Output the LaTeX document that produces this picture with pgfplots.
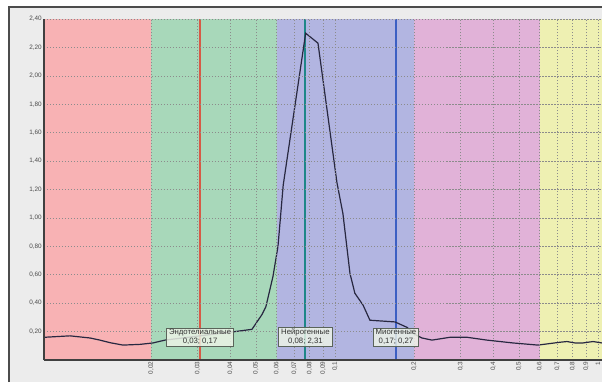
\documentclass[border=0pt]{standalone}
\usepackage{pgfplots}
\pgfplotsset{compat=1.18}
\usepackage{fontspec}
\setmainfont{Liberation Sans}
\definecolor{bgray}{RGB}{236,236,236}
\definecolor{bandR}{RGB}{248,178,180}
\definecolor{bandG}{RGB}{168,216,186}
\definecolor{bandB}{RGB}{178,181,225}
\definecolor{bandP}{RGB}{225,178,216}
\definecolor{bandY}{RGB}{238,240,178}
\definecolor{lineR}{RGB}{215,90,70}
\definecolor{lineT}{RGB}{30,135,135}
\definecolor{lineB}{RGB}{60,95,195}
\definecolor{curve}{RGB}{40,40,65}
\definecolor{boxfill}{RGB}{238,245,232}
\definecolor{boxdraw}{RGB}{90,100,90}
\begin{document}
\begin{tikzpicture}[x=1bp,y=1bp]
\useasboundingbox (0,0) rectangle (602,382);
\fill[white] (0,0) rectangle (602,382);
\fill[bgray] (9,0) rectangle (602,375);
\draw[black!70, line width=1.5bp] (9,0) -- (9,375) -- (602,375);
\begin{axis}[
  at={(44bp,22bp)}, anchor=south west,
  scale only axis, width=558bp, height=341bp,
  xmode=log, xmin=0.00783, xmax=1.0356,
  ymin=0, ymax=2.4,
  axis on top,
  axis x line*=bottom, axis y line*=left,
  axis line style={-, black!75, line width=1.3bp},
  xtick={0.02,0.03,0.04,0.05,0.06,0.07,0.08,0.09,0.1,0.2,0.3,0.4,0.5,0.6,0.7,0.8,0.9,1},
  xticklabels={{0,02},{0,03},{0,04},{0,05},{0,06},{0,07},{0,08},{0,09},{0,1},{0,2},{0,3},{0,4},{0,5},{0,6},{0,7},{0,8},{0,9},{1}},
  minor xtick={},
  ytick={0.2,0.4,0.6,0.8,1.0,1.2,1.4,1.6,1.8,2.0,2.2,2.4},
  yticklabels={{0,20},{0,40},{0,60},{0,80},{1,00},{1,20},{1,40},{1,60},{1,80},{2,00},{2,20},{2,40}},
  major tick length=0pt,
  xticklabel style={rotate=90, anchor=east, font=\fontsize{6.4}{7}\selectfont, text=black!70, inner sep=1.5bp},
  yticklabel style={font=\fontsize{6.4}{7}\selectfont, text=black!70, inner sep=2bp},
  /pgf/number format/assume math mode=true,
  grid=major,
  major grid style={dash pattern=on 1.5bp off 1.5bp, black!45, line width=0.6bp},
  clip=true,
]
% frequency bands
\addplot[draw=none, fill=bandR] coordinates {(0.00783,2.4) (0.02,2.4)} \closedcycle;
\addplot[draw=none, fill=bandG] coordinates {(0.02,2.4) (0.06,2.4)} \closedcycle;
\addplot[draw=none, fill=bandB] coordinates {(0.06,2.4) (0.2,2.4)} \closedcycle;
\addplot[draw=none, fill=bandP] coordinates {(0.2,2.4) (0.6,2.4)} \closedcycle;
\addplot[draw=none, fill=bandY] coordinates {(0.6,2.4) (1.0356,2.4)} \closedcycle;
% marker lines
\addplot[lineR, line width=1.6bp] coordinates {(0.0307,0) (0.0307,2.4)};
\addplot[lineT, line width=2bp] coordinates {(0.0772,0) (0.0772,2.4)};
\addplot[lineB, line width=1.6bp] coordinates {(0.1706,0) (0.1706,2.4)};
% spectrum curve
\addplot[curve, line width=1.2bp] coordinates {
(0.00787,0.160) (0.00983,0.170) (0.01171,0.155) (0.01278,0.140) (0.01395,0.122)
(0.01563,0.105) (0.01814,0.110) (0.02032,0.120) (0.02257,0.140) (0.03067,0.170)
(0.04167,0.200) (0.04835,0.216) (0.05278,0.320) (0.05463,0.376) (0.05809,0.587)
(0.06072,0.800) (0.06355,1.230) (0.07737,2.300) (0.08617,2.230) (0.1017,1.250)
(0.1072,1.030) (0.1140,0.610) (0.1190,0.470) (0.1278,0.387) (0.1358,0.280)
(0.1691,0.268) (0.1878,0.230) (0.2014,0.180) (0.2142,0.155) (0.2338,0.140)
(0.2738,0.160) (0.3176,0.160) (0.3784,0.140) (0.4751,0.120) (0.5910,0.105)
(0.7171,0.125) (0.7620,0.130) (0.8178,0.120) (0.8768,0.120) (0.9572,0.130) (1.0356,0.120)
};
\coordinate (L1) at (axis cs:0.0307,0.162);
\coordinate (L2) at (axis cs:0.0772,0.162);
\coordinate (L3) at (axis cs:0.1706,0.162);
\end{axis}
\tikzset{lbl/.style={draw=boxdraw, fill=boxfill, fill opacity=0.82, text opacity=1, align=center,
  font=\fontsize{7.8}{9}\selectfont, inner xsep=2.5bp, inner ysep=1.3bp, line width=0.7bp, text=black!80}}
\node[lbl] at (L1) {Эндотелиальные\\0,03; 0,17};
\node[lbl] at (L2) {Нейрогенные\\0,08; 2,31};
\node[lbl] at (L3) {Миогенные\\0,17; 0,27};
\end{tikzpicture}
\end{document}
